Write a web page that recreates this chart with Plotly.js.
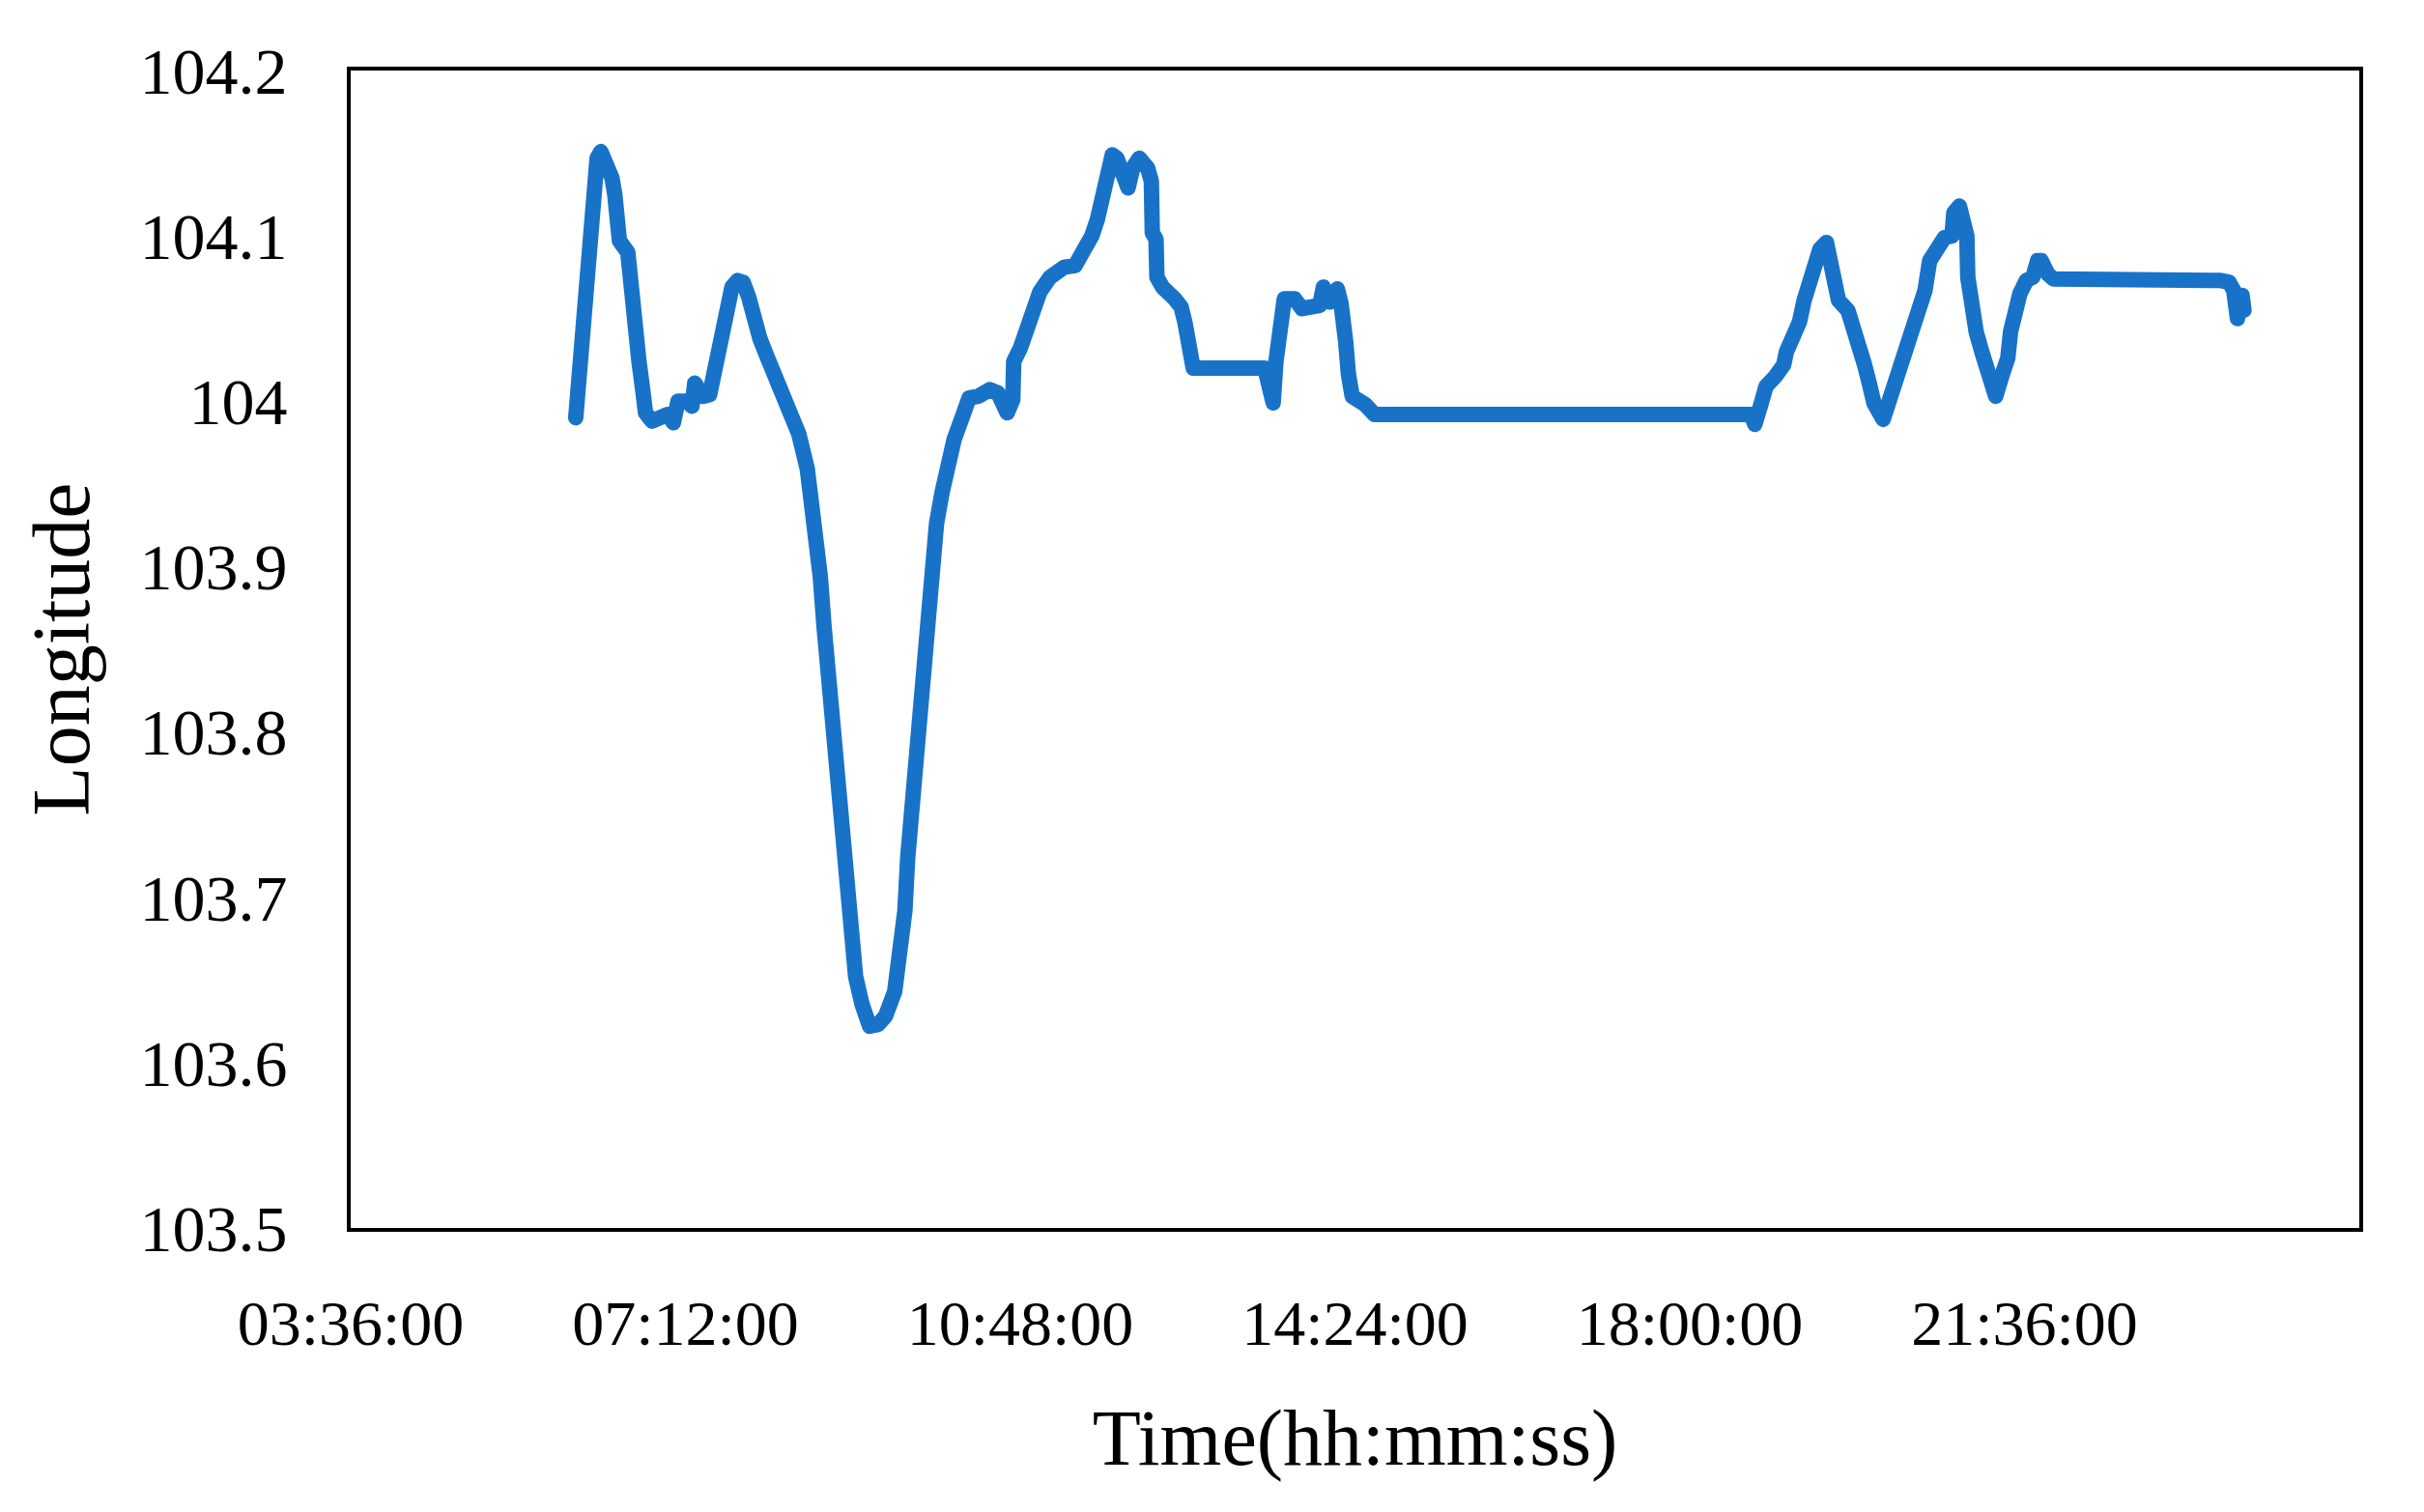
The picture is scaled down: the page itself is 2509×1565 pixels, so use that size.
<!DOCTYPE html>
<html>
<head>
<meta charset="utf-8">
<script src="https://cdn.plot.ly/plotly-3.0.1.min.js"></script>
<style>
  html, body { margin: 0; padding: 0; background: #ffffff; }
  #chart { width: 2509px; height: 1565px; }
  .scatterlayer .js-line { stroke-linejoin: round; stroke-linecap: round; }
</style>
</head>
<body>
<div id="chart"></div>
<script>
// Time of day in decimal hours
const timeHours = [
  6.02, 6.04, 6.06, 6.10, 6.11, 6.13, 6.15, 6.16, 6.18, 6.22, 6.25, 6.29, 6.36, 6.41, 6.44, 6.45, 6.49, 6.58, 6.61, 6.67,
  6.70, 6.74, 6.77, 6.84, 6.94, 7.01, 7.07, 7.12, 7.22, 7.27, 7.30, 7.36, 7.39, 7.46, 7.51, 7.55, 7.60, 7.65, 7.70, 7.76,
  7.82, 7.88, 7.93, 8.00, 8.07, 8.14, 8.22, 8.29, 8.35, 8.42, 8.51, 8.56, 8.62, 8.65, 8.69, 8.73, 8.78, 8.82, 8.87, 8.89,
  8.93, 8.98, 9.03, 9.10, 9.18, 9.27, 9.35, 9.45, 9.51, 9.56, 9.59, 9.63, 9.66, 9.71, 9.75, 9.80, 9.83, 9.86, 9.90, 9.96,
  10.02, 10.09, 10.18, 10.25, 10.35, 10.47, 10.56, 10.66, 10.72, 10.73, 10.80, 10.87, 10.93, 11.01, 11.12, 11.17, 11.27, 11.39, 11.48, 11.57,
  11.63, 11.67, 11.72, 11.79, 11.84, 11.91, 11.96, 12.01, 12.08, 12.17, 12.21, 12.22, 12.26, 12.27, 12.33, 12.46, 12.53, 12.57, 12.59, 12.64,
  12.66, 13.43, 13.47, 13.52, 13.55, 13.59, 13.64, 13.75, 13.83, 14.02, 14.06, 14.13, 14.21, 14.25, 14.26, 14.30, 14.33, 14.37, 14.51, 14.61,
  18.66, 18.70, 18.77, 18.82, 18.92, 19.01, 19.04, 19.11, 19.18, 19.23, 19.28, 19.35, 19.40, 19.47, 19.51, 19.56, 19.60, 19.70, 19.76, 19.81,
  19.88, 19.93, 19.98, 20.08, 20.15, 20.24, 20.29, 20.36, 20.41, 20.46, 20.53, 20.58, 20.67, 20.74, 20.82, 20.84, 20.90, 20.93, 20.98, 20.99,
  21.03, 21.08, 21.14, 21.19, 21.24, 21.29, 21.36, 21.42, 21.45, 21.50, 21.55, 21.62, 21.69, 21.74, 21.78, 21.85, 21.91, 23.71, 23.80, 23.85,
  23.87, 23.89, 23.94, 23.96
];

// Longitude values
const longitude = [
  103.990, 104.005, 104.020, 104.036, 104.050, 104.065, 104.077, 104.090, 104.106, 104.129, 104.147, 104.151, 104.143, 104.135, 104.125, 104.106, 104.097, 104.090, 104.065, 104.038,
  104.024, 104.007, 103.993, 103.988, 103.991, 103.992, 103.987, 104.000, 104.000, 103.997, 104.011, 104.007, 104.003, 104.004, 104.017, 104.024, 104.038, 104.055, 104.069, 104.073,
  104.072, 104.063, 104.051, 104.038, 104.028, 104.018, 104.011, 104.001, 103.991, 103.980, 103.959, 103.940, 103.918, 103.894, 103.864, 103.837, 103.810, 103.783, 103.757, 103.724,
  103.697, 103.670, 103.652, 103.635, 103.622, 103.623, 103.628, 103.643, 103.665, 103.692, 103.724, 103.751, 103.778, 103.805, 103.832, 103.859, 103.886, 103.907, 103.926, 103.945,
  103.961, 103.977, 103.991, 104.002, 104.003, 104.007, 104.005, 103.993, 104.001, 104.024, 104.032, 104.046, 104.057, 104.066, 104.075, 104.078, 104.081, 104.082, 104.090, 104.100,
  104.110, 104.121, 104.135, 104.149, 104.147, 104.133, 104.129, 104.141, 104.147, 104.141, 104.133, 104.102, 104.098, 104.075, 104.069, 104.062, 104.057, 104.048, 104.038, 104.032,
  104.020, 104.020, 104.011, 103.999, 104.024, 104.048, 104.062, 104.062, 104.056, 104.058, 104.069, 104.060, 104.068, 104.059, 104.040, 104.036, 104.016, 104.003, 103.998, 103.992,
  103.992, 103.986, 103.999, 104.009, 104.015, 104.022, 104.030, 104.038, 104.048, 104.061, 104.071, 104.081, 104.092, 104.096, 104.085, 104.073, 104.061, 104.055, 104.046, 104.034,
  104.022, 104.011, 103.999, 103.989, 104.001, 104.011, 104.020, 104.032, 104.044, 104.055, 104.067, 104.085, 104.092, 104.099, 104.100, 104.114, 104.118, 104.110, 104.100, 104.075,
  104.053, 104.042, 104.030, 104.018, 104.007, 104.003, 104.016, 104.026, 104.042, 104.055, 104.065, 104.073, 104.075, 104.085, 104.085, 104.077, 104.074, 104.073, 104.072, 104.067,
  104.051, 104.050, 104.064, 104.055
];

// Axis ticks
const xTickVals = [3.6, 7.2, 10.8, 14.4, 18.0, 21.6];
const xTickText = ["03:36:00", "07:12:00", "10:48:00", "14:24:00", "18:00:00", "21:36:00"];
const yTickVals = [103.5, 103.6, 103.7, 103.8, 103.9, 104.0, 104.1, 104.2];
const yTickText = ["103.5", "103.6", "103.7", "103.8", "103.9", "104", "104.1", "104.2"];

const fontFamily = '"Liberation Serif", "DejaVu Serif", serif';

const trace = {
  x: timeHours,
  y: longitude,
  type: 'scatter',
  mode: 'lines',
  line: { color: '#1873c8', width: 16, shape: 'linear' },
  hoverinfo: 'skip'
};

const layout = {
  width: 2509,
  height: 1565,
  paper_bgcolor: '#ffffff',
  plot_bgcolor: '#ffffff',
  showlegend: false,
  margin: { l: 363, r: 67, t: 73, b: 294, pad: 0 },
  font: { family: fontFamily, color: '#000000', size: 66 },
  xaxis: {
    range: [3.6, 25.2],
    tickmode: 'array',
    tickvals: xTickVals,
    ticktext: xTickText,
    ticks: '',
    showgrid: false,
    zeroline: false,
    showline: true,
    linecolor: '#000000',
    linewidth: 4,
    mirror: true,
    tickfont: { family: fontFamily, size: 66, color: '#000000' },
    ticklabelstandoff: 38,
    automargin: false,
    title: { text: 'Time(hh:mm:ss)', font: { family: fontFamily, size: 82, color: '#000000' }, standoff: 54 }
  },
  yaxis: {
    range: [103.5, 104.2],
    tickmode: 'array',
    tickvals: yTickVals,
    ticktext: yTickText,
    ticks: '',
    showgrid: false,
    zeroline: false,
    showline: true,
    linecolor: '#000000',
    linewidth: 4,
    mirror: true,
    tickfont: { family: fontFamily, size: 68, color: '#000000' },
    ticklabelstandoff: 48,
    automargin: false,
    title: { text: 'Longitude', font: { family: fontFamily, size: 84, color: '#000000' }, standoff: 25 }
  }
};

Plotly.newPlot('chart', [trace], layout, { displayModeBar: false, staticPlot: true });
</script>
</body>
</html>
